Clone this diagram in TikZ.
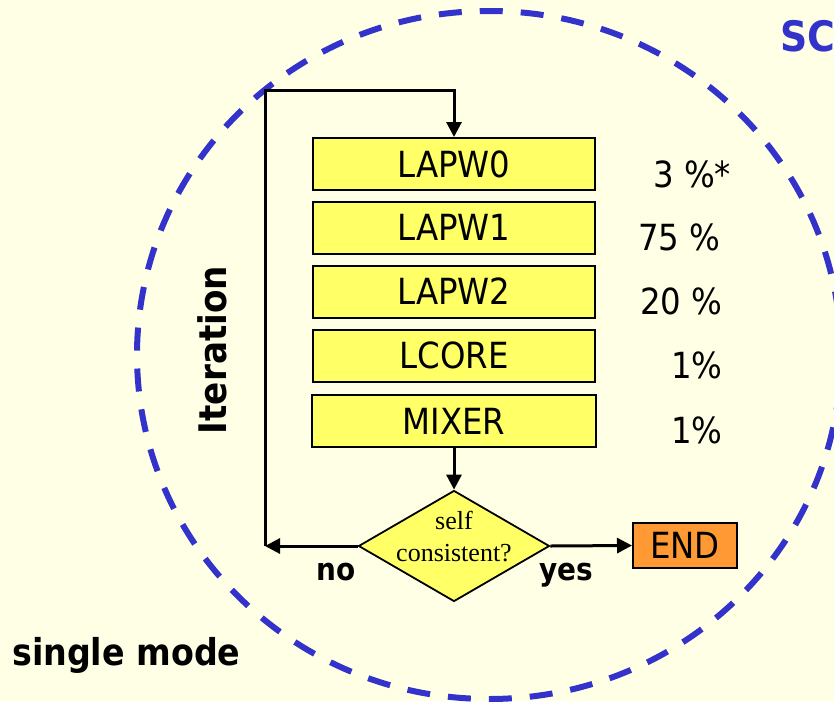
\documentclass[tikz,border=0pt]{standalone}
\usepackage{fontspec}
\setmainfont{DejaVu Sans Condensed}
\newfontfamily\serifm{Liberation Serif}
\usetikzlibrary{shapes.geometric,arrows.meta}
\definecolor{bg}{HTML}{FFFFE6}
\definecolor{boxy}{HTML}{FFFF66}
\definecolor{orng}{HTML}{FF9933}
\definecolor{blu}{HTML}{3333CC}
\begin{document}
\begin{tikzpicture}[x=1pt,y=-1pt,
  stage/.style={draw=black, line width=2pt, fill=boxy, minimum width=282pt, minimum height=52pt, inner sep=0pt, font=\fontsize{36}{40}\selectfont},
  pct/.style={anchor=base west, inner sep=0pt, font=\fontsize{36}{40}\selectfont},
  conn/.style={line width=3pt, -{Triangle[length=15pt,width=15pt]}},
  bolds/.style={inner sep=0pt, font=\bfseries\fontsize{31}{36}\selectfont}]
\fill[bg] (0,0) rectangle (834,701);
\useasboundingbox (0,0) rectangle (834,701);
% dashed circle
\draw[blu, line width=6pt, dash pattern=on 23pt off 18pt] (489,355) ellipse [x radius=352pt, y radius=344pt];
% stages
\node[stage] (l0) at (454,164) {LAPW0};
\node[stage] (l1) at (454,227.5) {LAPW1};
\node[stage] (l2) at (454,291.5) {LAPW2};
\node[stage] (lc) at (454,355.5) {LCORE};
\node[stage, minimum width=284pt] (mx) at (454,421) {MIXER};
% percentages
\node[pct] (p0) at (653,187) {3 \%*};
\node[pct] (p1) at (638,250) {75 \%};
\node[pct] (p2) at (640,314) {20 \%};
\node[pct] (p3) at (671,378) {1\%};
\node[pct] (p4) at (671,443) {1\%};
% decision
\node[diamond, draw=black, line width=1.8pt, fill=boxy, minimum width=191pt, minimum height=111pt, inner sep=0pt] (sc) at (454,546) {};
\node[align=center, inner sep=0pt, font=\serifm\fontsize{26}{32}\selectfont] (sct) at (454,537) {self\\consistent?};
% END
\node[draw=black, line width=2pt, fill=orng, minimum width=104pt, minimum height=45pt, inner sep=0pt, font=\fontsize{36}{40}\selectfont] (end) at (685,545.5) {END};
% connectors
\coordinate (lb) at (265,546);
\coordinate (lt) at (265,90);
\draw[conn] (mx.south) -- (sc.north);
\draw[conn] (sc.west) -- (lb);
\draw[conn] (sc.east) -- (end.west);
\draw[conn] (lb) -- (lt) -| (l0.north);
% labels
\node[bolds, anchor=base] (no) at (336,580) {no};
\node[bolds, anchor=base] (yes) at (566,580) {yes};
\node[inner sep=0pt, rotate=90, font=\bfseries\fontsize{38}{44}\selectfont] (it) at (212,350) {Iteration};
\node[inner sep=0pt, anchor=base west, font=\bfseries\fontsize{37}{44}\selectfont] (sm) at (12,665) {single mode};
\node[inner sep=0pt, anchor=base west, text=blu, font=\bfseries\fontsize{42}{48}\selectfont] (scf) at (780,52) {SC};
\end{tikzpicture}
\end{document}
